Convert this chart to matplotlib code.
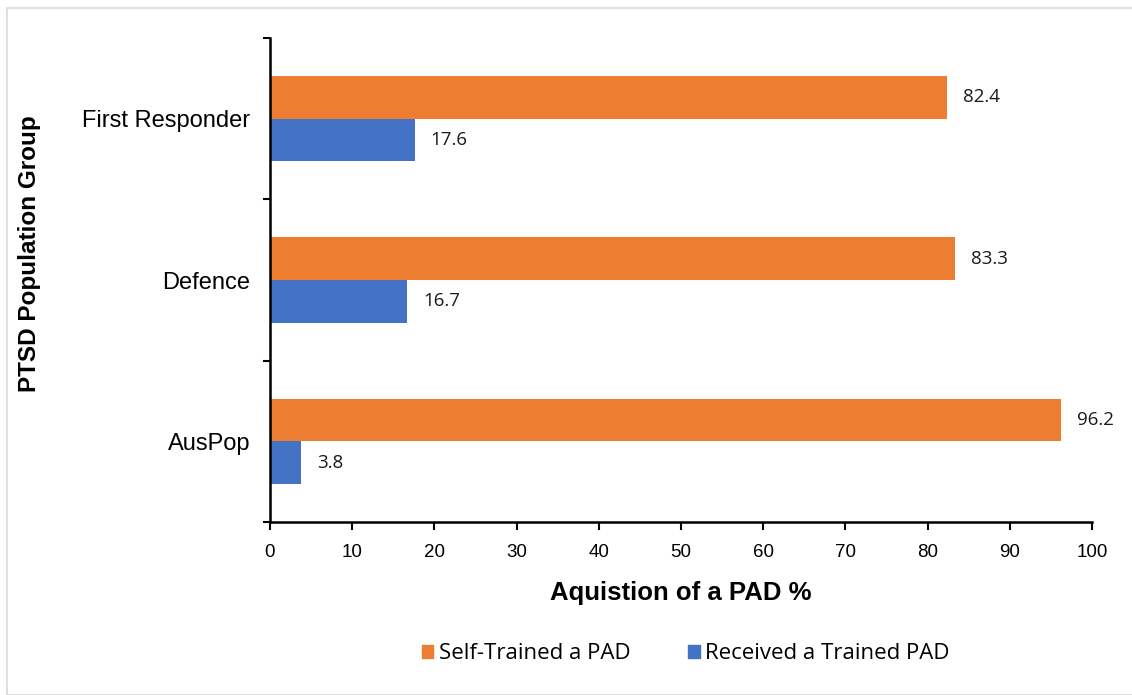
import matplotlib.pyplot as plt
import matplotlib.patches as mpatches
import numpy as np

groups = ['AusPop', 'Defence', 'First Responder']
self_trained = [96.2, 83.3, 82.4]
received = [3.8, 16.7, 17.6]
x_ticks = list(range(0, 101, 10))

orange = '#ED7D31'
blue = '#4472C4'
arial = ['Liberation Sans', 'DejaVu Sans']

fig = plt.figure(figsize=(11.32, 6.95), dpi=100)
ax = fig.add_axes([0.2385, 0.2489, 0.7262, 0.6964])

# light frame around the whole chart area
fig.patches.append(mpatches.Rectangle((7 / 1132, 0), 1.2, 1 - 8 / 695,
                                      transform=fig.transFigure, fill=False,
                                      edgecolor='#d9d9d9', linewidth=1.2))

y = np.arange(len(groups)) + 0.5
h = 0.265
b1 = ax.barh(y + h / 2, self_trained, height=h, color=orange)
b2 = ax.barh(y - h / 2, received, height=h, color=blue)

for bars, vals in ((b1, self_trained), (b2, received)):
    for bar, v in zip(bars, vals):
        ax.annotate(f'{v:.1f}', (v, bar.get_y() + bar.get_height() / 2),
                    xytext=(16, 0), textcoords='offset pixels',
                    va='center', ha='left', fontsize=13.5, family='Open Sans',
                    color='#1a1a1a')

ax.set_xlim(0, 100)
ax.set_ylim(0, 3)
ax.set_xticks(x_ticks)
ax.set_xticklabels([str(t) for t in x_ticks], family=arial, fontsize=13.5)
ax.set_yticks([0, 1, 2, 3])
ax.set_yticklabels([])
ax.set_yticks(y, minor=True)
ax.set_yticklabels(groups, minor=True, fontsize=17, family=arial)
ax.tick_params(axis='y', which='minor', length=0, pad=14)
ax.tick_params(axis='y', which='major', length=5, width=1.5, direction='out')
ax.tick_params(axis='x', length=6, width=1.5, direction='out', pad=10)

for s in ('top', 'right'):
    ax.spines[s].set_visible(False)
for s in ('left', 'bottom'):
    ax.spines[s].set_linewidth(1.8)

ax.set_xlabel('Aquistion of a PAD %', family=arial, fontsize=18.5,
              fontweight='bold', labelpad=14)
ax.set_ylabel('PTSD Population Group', family=arial, fontsize=17.5,
              fontweight='bold')
ax.yaxis.set_label_coords(-0.279, 0.555)

handles = [mpatches.Patch(color=orange), mpatches.Patch(color=blue)]
fig.legend(handles, ['Self-Trained a PAD', 'Received a Trained PAD'],
           loc='center', bbox_to_anchor=(0.606, 0.059), ncol=2, frameon=False,
           prop={'family': 'Open Sans', 'size': 16}, handlelength=0.5,
           handleheight=0.5, handletextpad=0.25, columnspacing=2.6)

fig.savefig('out.png', dpi=100)
